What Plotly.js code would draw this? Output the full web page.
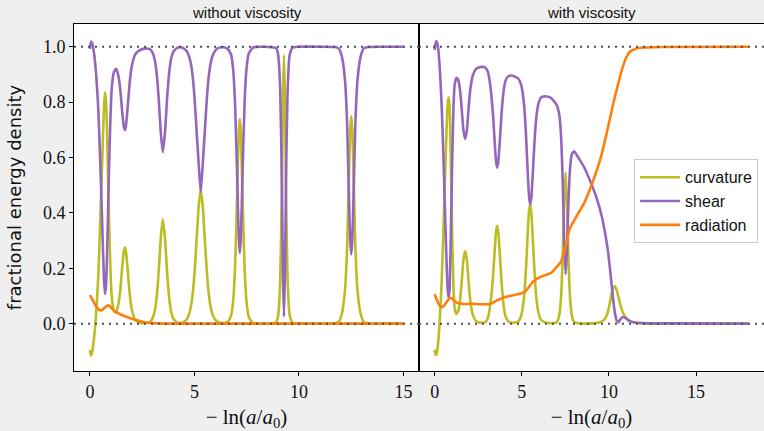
<!DOCTYPE html>
<html><head><meta charset="utf-8">
<script src="https://cdn.plot.ly/plotly-3.0.1.min.js"></script>
<style>html,body{margin:0;padding:0;background:#efefef;}</style>
</head><body>
<div id="chart" style="width:764px;height:431px;"></div>
<script>
// ---- data: without viscosity ----
const xL = [0,0.05,0.1,0.2,0.3,0.4,0.5,0.6,0.67,0.72,0.77,0.83,0.9,0.97,1.05,1.15,1.25,1.35,1.45,1.55,1.62,1.67,1.72,1.8,1.9,2.0,2.15,2.35,2.6,2.85,3.0,3.1,3.2,3.3,3.4,3.49,3.6,3.7,3.8,3.9,4.0,4.2,4.4,4.6,4.7,4.8,4.9,5.0,5.1,5.2,5.3,5.4,5.5,5.6,5.7,5.8,5.9,6.1,6.4,6.6,6.75,6.85,6.95,7.05,7.12,7.17,7.22,7.3,7.4,7.5,7.6,7.8,8.3,8.9,9.0,9.1,9.18,9.23,9.28,9.33,9.38,9.45,9.55,9.7,10,11,11.7,11.9,12.05,12.2,12.3,12.4,12.45,12.5,12.55,12.6,12.7,12.8,12.95,13.1,13.3,14,15];
const curvatureL = [-0.095,-0.115,-0.105,-0.05,0.04,0.17,0.38,0.62,0.78,0.835,0.8,0.66,0.42,0.22,0.09,0.045,0.04,0.065,0.12,0.21,0.26,0.275,0.262,0.2,0.11,0.053,0.016,0.004,0.002,0.005,0.02,0.046,0.1,0.2,0.32,0.377,0.3,0.177,0.087,0.038,0.017,0.003,0.003,0.013,0.026,0.051,0.097,0.18,0.3,0.42,0.485,0.42,0.3,0.18,0.097,0.051,0.026,0.006,0.002,0.008,0.028,0.08,0.22,0.49,0.69,0.74,0.69,0.46,0.197,0.072,0.024,0.003,0,0.005,0.027,0.15,0.48,0.81,0.97,0.81,0.48,0.175,0.032,0.003,0,0,0.001,0.006,0.035,0.12,0.27,0.57,0.70,0.75,0.70,0.57,0.27,0.12,0.035,0.006,0.001,0,0];
const shearL = [0.992,1.018,1.015,0.975,0.898,0.777,0.572,0.33,0.165,0.107,0.139,0.276,0.514,0.717,0.855,0.909,0.92,0.899,0.847,0.76,0.712,0.699,0.713,0.777,0.869,0.929,0.97,0.986,0.993,0.992,0.978,0.953,0.899,0.8,0.68,0.62,0.7,0.823,0.913,0.962,0.983,0.997,0.997,0.987,0.974,0.949,0.903,0.82,0.7,0.58,0.475,0.58,0.7,0.82,0.903,0.949,0.974,0.994,0.998,0.992,0.972,0.92,0.78,0.51,0.31,0.255,0.31,0.54,0.803,0.928,0.976,0.997,1,0.995,0.973,0.85,0.52,0.19,0.025,0.19,0.52,0.825,0.968,0.997,1,1,0.999,0.994,0.965,0.88,0.73,0.43,0.30,0.25,0.30,0.43,0.73,0.88,0.965,0.994,0.999,1,1];
const xRadL = [0,0.1,0.2,0.3,0.4,0.5,0.6,0.7,0.8,0.88,0.95,1.05,1.2,1.45,1.7,2.0,2.3,2.6,3.0,3.5,15];
const radiationL = [0.103,0.09,0.075,0.062,0.053,0.048,0.05,0.057,0.063,0.066,0.063,0.055,0.044,0.034,0.026,0.018,0.011,0.005,0.002,0,0];

// ---- data: with viscosity ----
const xR = [0,0.05,0.11,0.2,0.3,0.4,0.5,0.6,0.7,0.75,0.8,0.85,0.92,1.0,1.08,1.15,1.25,1.35,1.45,1.55,1.65,1.75,1.85,1.95,2.05,2.2,2.4,2.7,2.9,3.05,3.15,3.25,3.35,3.45,3.52,3.58,3.65,3.75,3.85,3.95,4.05,4.2,4.4,4.6,4.8,4.95,5.05,5.15,5.25,5.35,5.42,5.48,5.55,5.65,5.75,5.85,5.95,6.1,6.4,6.7,7.0,7.15,7.25,7.35,7.43,7.51,7.59,7.67,7.77,7.87,8.0,8.3,8.6,9.0,9.3,9.6,9.8,9.95,10.1,10.22,10.34,10.45,10.55,10.65,10.8,11.0,11.2,11.5,12,13,18];
const curvatureR = [-0.094,-0.11,-0.112,-0.07,0.02,0.15,0.33,0.54,0.73,0.795,0.817,0.79,0.62,0.34,0.13,0.055,0.035,0.045,0.08,0.15,0.23,0.262,0.23,0.15,0.08,0.03,0.008,0.003,0.005,0.02,0.05,0.1,0.17,0.27,0.33,0.353,0.33,0.24,0.14,0.07,0.03,0.01,0.003,0.004,0.008,0.026,0.055,0.11,0.21,0.34,0.41,0.43,0.40,0.283,0.165,0.084,0.042,0.014,0.003,0.002,0.005,0.03,0.094,0.25,0.44,0.546,0.44,0.25,0.094,0.03,0.006,0.001,0,0.001,0.002,0.008,0.02,0.045,0.09,0.125,0.136,0.12,0.095,0.07,0.04,0.02,0.01,0.004,0.001,0,0];
const shearR = [0.988,1.012,1.02,0.995,0.916,0.79,0.608,0.39,0.19,0.121,0.095,0.119,0.287,0.569,0.784,0.863,0.888,0.881,0.847,0.778,0.699,0.667,0.699,0.779,0.848,0.898,0.921,0.927,0.925,0.91,0.879,0.827,0.754,0.65,0.588,0.563,0.584,0.671,0.769,0.836,0.874,0.892,0.896,0.892,0.885,0.865,0.834,0.777,0.67,0.532,0.457,0.43,0.456,0.565,0.678,0.754,0.793,0.817,0.821,0.814,0.79,0.755,0.681,0.51,0.305,0.179,0.26,0.425,0.561,0.612,0.622,0.594,0.562,0.503,0.452,0.385,0.32,0.26,0.175,0.10,0.04,0.01,0.005,0.015,0.024,0.018,0.008,0.004,0.002,0.001,0];
const radiationR = [0.106,0.098,0.089,0.075,0.064,0.06,0.062,0.07,0.08,0.084,0.088,0.091,0.093,0.091,0.086,0.082,0.077,0.074,0.073,0.072,0.071,0.071,0.071,0.071,0.072,0.072,0.071,0.07,0.07,0.07,0.071,0.073,0.076,0.08,0.082,0.084,0.086,0.089,0.091,0.094,0.096,0.098,0.101,0.104,0.107,0.109,0.111,0.113,0.12,0.128,0.133,0.138,0.144,0.152,0.157,0.162,0.165,0.169,0.176,0.184,0.205,0.215,0.225,0.24,0.255,0.275,0.3,0.325,0.345,0.358,0.372,0.405,0.438,0.50,0.553,0.615,0.668,0.71,0.752,0.787,0.818,0.846,0.87,0.895,0.928,0.962,0.982,0.992,0.997,0.999,1.0];

const seriesNames = ['curvature','shear','radiation'];
const panelTitles = ['without viscosity','with viscosity'];
const yTicks = [0,0.2,0.4,0.6,0.8,1.0];
const xTicks = [0,5,10,15];
const refLevels = [0,1];

const colors = {curvature:'#bcbd22', shear:'#9467bd', radiation:'#ff7f0e'};
const lw = 2.6;
function tr(x,y,name,xa,ya,show){
  return {x:x,y:y,name:name,xaxis:xa,yaxis:ya,type:'scatter',mode:'lines',
    line:{color:colors[name],width:lw,shape:'spline',smoothing:0.5},showlegend:show,hoverinfo:'skip'};
}
const data = [
  tr(xL,curvatureL,seriesNames[0],'x','y',false),
  tr(xL,shearL,seriesNames[1],'x','y',false),
  tr(xRadL,radiationL,seriesNames[2],'x','y',false),
  tr(xR,curvatureR,seriesNames[0],'x2','y2',true),
  tr(xR,shearR,seriesNames[1],'x2','y2',true),
  tr(xR,radiationR,seriesNames[2],'x2','y2',true)
];

const shapes = [];
['x','x2'].forEach(function(xa){
  refLevels.forEach(function(v){
    shapes.push({type:'line',xref:xa+' domain',yref:(xa==='x'?'y':'y2'),x0:0,x1:1,y0:v,y1:v,
      line:{color:'#505050',width:2,dash:'2px,5px'},layer:'above'});
  });
});

const tickFont = {family:'"Liberation Serif", "DejaVu Serif", serif', size:18, color:'#111'};
const axBase = {showline:true,linecolor:'#000',linewidth:1,mirror:true,ticks:'outside',ticklen:4,
  tickcolor:'#000',showgrid:false,zeroline:false,tickfont:tickFont};
const xTitle = {text:'\u2212 ln(<i>a</i>/<i>a</i><sub>0</sub>)', font:{family:'"Liberation Serif", serif', size:21, color:'#111'}, standoff:8};

const layout = {
  width:764, height:431,
  paper_bgcolor:'#efefef', plot_bgcolor:'#ffffff',
  margin:{l:0,r:0,t:24,b:60},
  showlegend:true,
  xaxis:Object.assign({},axBase,{domain:[0.0969,0.5484],range:[-0.76,15.74],tickvals:xTicks,title:xTitle,anchor:'y'}),
  xaxis2:Object.assign({},axBase,{domain:[0.5484,1.0],range:[-0.9,18.9],tickvals:xTicks,title:xTitle,anchor:'y2'}),
  yaxis:Object.assign({},axBase,{range:[-0.171,1.082],tickvals:yTicks,ticktext:yTicks.map(function(v){return v.toFixed(1);}),
    anchor:'x',title:{text:'fractional energy density',font:{family:'"DejaVu Sans", sans-serif',size:18,color:'#111'},standoff:16}}),
  yaxis2:Object.assign({},axBase,{range:[-0.171,1.082],anchor:'x2',showticklabels:false,ticks:''}),
  legend:{x:0.83,xanchor:'left',y:0.61,yanchor:'top',bgcolor:'rgba(255,255,255,0.85)',bordercolor:'#cccccc',borderwidth:1,
    font:{family:'"Liberation Sans", Arial, sans-serif',size:16,color:'#111'},tracegroupgap:0,itemwidth:40},
  shapes:shapes,
  annotations:[
    {text:panelTitles[0],xref:'paper',yref:'paper',x:(0.0969+0.5484)/2,y:1,xanchor:'center',yanchor:'bottom',yshift:1,showarrow:false,
     font:{family:'"Liberation Sans", Arial, sans-serif',size:15,color:'#111'}},
    {text:panelTitles[1],xref:'paper',yref:'paper',x:(0.5484+1.0)/2,y:1,xanchor:'center',yanchor:'bottom',yshift:1,showarrow:false,
     font:{family:'"Liberation Sans", Arial, sans-serif',size:15,color:'#111'}}
  ]
};
Plotly.newPlot('chart',data,layout,{displayModeBar:false,staticPlot:true});
</script>
</body></html>
